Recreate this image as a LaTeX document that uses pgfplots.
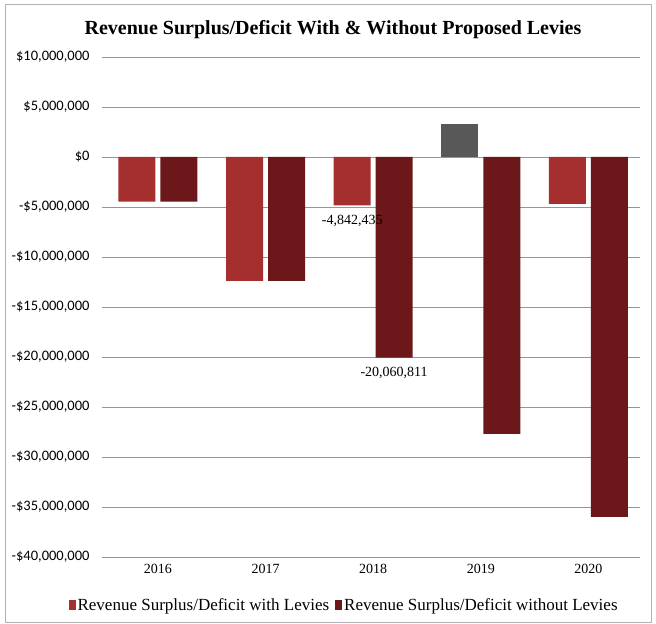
\documentclass[border=0pt]{standalone}
\usepackage{fontspec}
\setmainfont{Liberation Serif}
\newfontfamily\tickfont{Carlito}
\usepackage{pgfplots}
\pgfplotsset{compat=1.18}
\definecolor{withlev}{RGB}{165,46,46}
\definecolor{withoutlev}{RGB}{108,24,27}
\definecolor{surplus}{RGB}{88,88,88}
\definecolor{gridc}{RGB}{150,150,150}
\begin{document}
\begin{tikzpicture}
\useasboundingbox (0,0) rectangle (656bp,624bp);
\draw[gray!60, line width=0.8bp] (5bp,2bp) rectangle (651bp,620bp);
\node[font=\bfseries\fontsize{20bp}{23bp}\selectfont] at (333bp,594bp) {Revenue Surplus/Deficit With \& Without Proposed Levies};
\begin{axis}[
  at={(102bp,67bp)}, anchor=south west,
  scale only axis, width=538bp, height=500bp,
  xmin=-0.52, xmax=4.48,
  ymin=-40000000, ymax=10000000,
  scaled y ticks=false,
  ytick={-40000000,-35000000,-30000000,-25000000,-20000000,-15000000,-10000000,-5000000,0,5000000,10000000},
  yticklabels={-\$40{,}000{,}000,-\$35{,}000{,}000,-\$30{,}000{,}000,-\$25{,}000{,}000,-\$20{,}000{,}000,-\$15{,}000{,}000,-\$10{,}000{,}000,-\$5{,}000{,}000,\$0,\$5{,}000{,}000,\$10{,}000{,}000},
  yticklabel style={font=\tickfont\fontsize{14.5bp}{16bp}\selectfont, xshift=-9bp},
  xtick={0,1,2,3,4},
  xticklabels={2016,2017,2018,2019,2020},
  xticklabel style={font=\fontsize{14bp}{16bp}\selectfont, yshift=-4bp},
  /pgf/number format/assume math mode=true,
  ymajorgrids, grid style={gridc, line width=0.8bp},
  axis line style={draw=none},
  major tick length=0pt,
  ybar, bar width=37bp,
  legend style={at={(0.45,-0.096)}, anchor=center, draw=none, legend columns=2,
    font=\fontsize{17bp}{19bp}\selectfont, /tikz/every even column/.append style={column sep=4bp}},
  legend image code/.code={\fill[#1] (0bp,-5bp) rectangle (7bp,5bp);},
]
\addplot[fill=withlev, draw=none, bar shift=-21bp] coordinates {(0,-4470000) (1,-12400000) (2,-4842435) (4,-4700000)};
\addlegendentry{Revenue Surplus/Deficit with Levies}
\addplot[fill=withoutlev, draw=none, bar shift=21bp] coordinates {(0,-4470000) (1,-12400000) (2,-20060811) (3,-27700000) (4,-36000000)};
\addlegendentry{Revenue Surplus/Deficit without Levies}
\addplot[fill=surplus, draw=none, bar shift=-21bp, forget plot] coordinates {(3,3300000)};
\node[font=\fontsize{14bp}{16bp}\selectfont, below, yshift=-6bp] at (axis cs:1.805,-4842435) {-4,842,435};
\node[font=\fontsize{14bp}{16bp}\selectfont, below, yshift=-6bp] at (axis cs:2.195,-20060811) {-20,060,811};
\end{axis}
\end{tikzpicture}
\end{document}
